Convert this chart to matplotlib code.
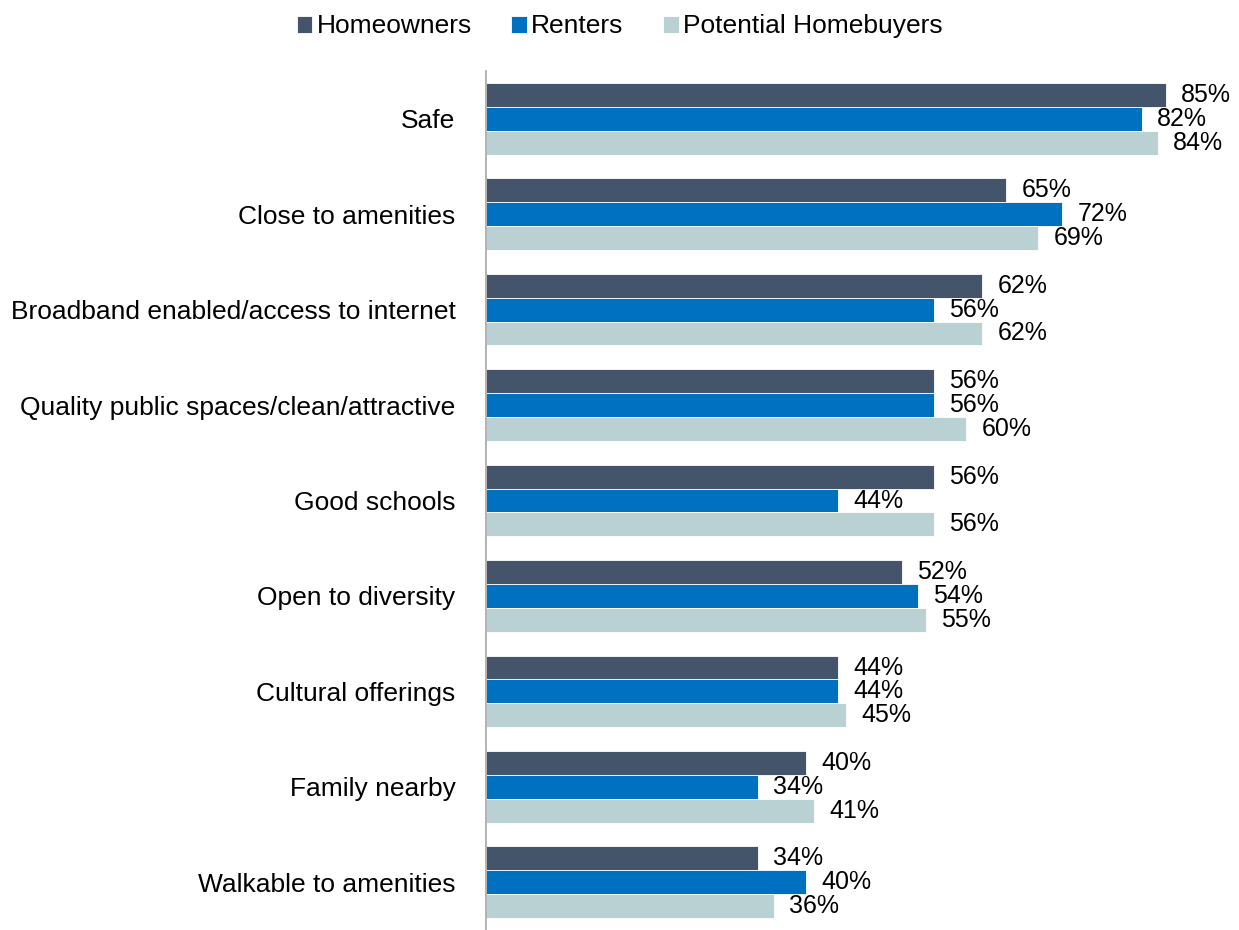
import numpy as np
import matplotlib.pyplot as plt

plt.rcParams['font.family'] = ['Liberation Sans', 'DejaVu Sans']

categories = ['Safe', 'Close to amenities', 'Broadband enabled/access to internet',
              'Quality public spaces/clean/attractive', 'Good schools',
              'Open to diversity', 'Cultural offerings', 'Family nearby',
              'Walkable to amenities']
homeowners = [85, 65, 62, 56, 56, 52, 44, 40, 34]
renters = [82, 72, 56, 56, 44, 54, 44, 34, 40]
potential = [84, 69, 62, 60, 56, 55, 45, 41, 36]

series = [('Homeowners', homeowners, '#44546A'),
          ('Renters', renters, '#0070C0'),
          ('Potential Homebuyers', potential, '#B9D1D2')]

fig = plt.figure(figsize=(12.39, 9.3), dpi=100)
ax = fig.add_axes([486 / 1239, 0.0, 720 / 1239, 1 - 71 / 930])

y = np.arange(len(categories))
h = 0.25
for i, (name, vals, col) in enumerate(series):
    pos = y + (i - 1) * h
    bars = ax.barh(pos, vals, height=h, color=col, edgecolor='white',
                   linewidth=0.6, label=name)
    for b, v in zip(bars, vals):
        ax.annotate(f'{v}%', (b.get_width(), b.get_y() + b.get_height() / 2),
                    xytext=(11, 0), textcoords='offset points',
                    ha='left', va='center', fontsize=18)

ax.set_xlim(0, 90)
ax.set_ylim(len(categories) - 0.5, -0.5)
ax.set_yticks(y)
ax.set_yticklabels(categories, fontsize=19)
ax.tick_params(axis='y', length=0, pad=22)
ax.set_xticks([])
for s in ['top', 'right', 'bottom']:
    ax.spines[s].set_visible(False)
ax.spines['left'].set_color('#A6A6A6')
ax.spines['left'].set_linewidth(1.2)

fig.legend(loc='upper center', bbox_to_anchor=(0.5, 1.01), ncol=3,
           frameon=False, fontsize=19, handlelength=0.6, handleheight=0.6,
           handletextpad=0.15, columnspacing=1.5)

fig.savefig('out.png', dpi=100)
